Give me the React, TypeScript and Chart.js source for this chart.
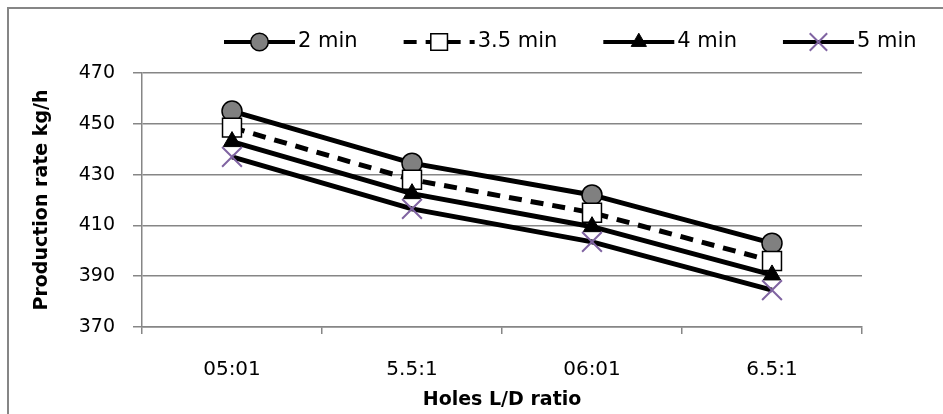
import React, { useEffect, useRef } from "react";
import { Chart, registerables } from "chart.js";
import { drawPoint } from "chart.js/helpers";

Chart.register(...registerables);

// Holes L/D ratio categories
const categories = ["05:01", "5.5:1", "06:01", "6.5:1"];

// Production rate (kg/h) for each residence time
const rate2min = [455, 434.5, 422, 403];
const rate35min = [448.5, 428, 415, 396];
const rate4min = [443, 422.5, 409.5, 390.5];
const rate5min = [437, 416.5, 403.5, 384.5];

const seriesNames = ["2 min", "3.5 min", "4 min", "5 min"];

// Value axis range
const yMin = 370;
const yMax = 470;
const yStep = 20;

const FONT = "'DejaVu Sans', sans-serif";
const GRID = "#868686";

// Legend drawn as a line sample with the series marker in its middle
const lineLegend = {
  id: "lineLegend",
  afterDraw(chart: any) {
    const ctx = chart.ctx as CanvasRenderingContext2D;
    const sample = 71;
    const textGap = 3;
    const itemGap = 46;
    const y = 42;
    let x = 224;
    ctx.save();
    ctx.font = `21px ${FONT}`;
    ctx.textBaseline = "middle";
    ctx.textAlign = "left";
    chart.data.datasets.forEach((ds: any) => {
      ctx.save();
      ctx.strokeStyle = ds.borderColor;
      ctx.lineWidth = 4;
      ctx.lineCap = "butt";
      ctx.setLineDash(ds.borderDash || []);
      ctx.beginPath();
      ctx.moveTo(x, y);
      ctx.lineTo(x + sample, y);
      ctx.stroke();
      ctx.setLineDash([]);
      ctx.fillStyle = ds.pointBackgroundColor;
      ctx.strokeStyle = ds.pointBorderColor;
      ctx.lineWidth = ds.pointBorderWidth;
      drawPoint(
        ctx,
        {
          pointStyle: ds.pointStyle,
          radius: ds.pointRadius * 0.88,
          rotation: 0,
          borderWidth: ds.pointBorderWidth,
        } as any,
        x + sample / 2,
        y
      );
      ctx.restore();
      ctx.fillStyle = "#000";
      const tx = x + sample + textGap;
      ctx.fillText(ds.label, tx, y);
      x = tx + ctx.measureText(ds.label).width + itemGap;
    });
    ctx.restore();
  },
};

export default function App() {
  const canvasRef = useRef<HTMLCanvasElement | null>(null);

  useEffect(() => {
    if (!canvasRef.current) return;
    const chart = new Chart(canvasRef.current, {
      type: "line",
      data: {
        labels: categories,
        datasets: [
          {
            label: seriesNames[0],
            data: rate2min,
            borderColor: "#000",
            borderWidth: 5,
            pointStyle: "circle",
            pointRadius: 10,
            pointBackgroundColor: "#808080",
            pointBorderColor: "#000",
            pointBorderWidth: 1.5,
            order: 4,
          },
          {
            label: seriesNames[1],
            data: rate35min,
            borderColor: "#000",
            borderWidth: 5,
            borderDash: [13, 9],
            pointStyle: "rect",
            pointRadius: 13.4,
            pointBackgroundColor: "#fff",
            pointBorderColor: "#000",
            pointBorderWidth: 1.5,
            order: 3,
          },
          {
            label: seriesNames[2],
            data: rate4min,
            borderColor: "#000",
            borderWidth: 5,
            pointStyle: "triangle",
            pointRadius: 10,
            pointBackgroundColor: "#000",
            pointBorderColor: "#000",
            pointBorderWidth: 1,
            order: 2,
          },
          {
            label: seriesNames[3],
            data: rate5min,
            borderColor: "#000",
            borderWidth: 5,
            pointStyle: "crossRot",
            pointRadius: 14,
            pointBackgroundColor: "#8064A2",
            pointBorderColor: "#8064A2",
            pointBorderWidth: 2,
            order: 1,
          },
        ],
      },
      options: {
        animation: false,
        responsive: false,
        devicePixelRatio: 1,
        layout: { padding: { top: 73, right: 81, left: 0, bottom: 0 } },
        plugins: {
          legend: { display: false },
          tooltip: { enabled: false },
        },
        scales: {
          x: {
            type: "category",
            offset: true,
            grid: {
              offset: true,
              drawOnChartArea: false,
              drawTicks: true,
              tickLength: 7,
              color: GRID,
              lineWidth: 1.5,
            },
            border: { color: GRID, width: 1.5 },
            ticks: {
              padding: 24,
              color: "#000",
              font: { family: FONT, size: 20 },
              maxRotation: 0,
            },
            title: {
              display: true,
              text: "Holes L/D ratio",
              color: "#000",
              font: { family: FONT, size: 19, weight: "bold" },
              padding: { top: 0, bottom: 3 },
            },
            afterFit(scale: any) {
              scale.height = 87;
            },
          },
          y: {
            min: yMin,
            max: yMax,
            grid: {
              color: GRID,
              lineWidth: 1.5,
              tickLength: 9,
            },
            border: { color: GRID, width: 1.5 },
            ticks: {
              stepSize: yStep,
              padding: 18,
              color: "#000",
              font: { family: FONT, size: 19 },
            },
            title: {
              display: true,
              text: "Production rate kg/h",
              color: "#000",
              font: { family: FONT, size: 19, weight: "bold" },
              padding: { top: 31, bottom: 0 },
            },
            afterFit(scale: any) {
              scale.width = 142;
            },
          },
        },
      },
      plugins: [lineLegend],
    });
    return () => chart.destroy();
  }, []);

  return (
    <div
      style={{
        position: "fixed",
        left: 0,
        top: 0,
        width: 943,
        height: 414,
        background: "#fff",
        overflow: "hidden",
      }}
    >
      <div
        style={{
          position: "absolute",
          left: 7,
          top: 7,
          width: 1000,
          height: 1000,
          borderLeft: `2px solid ${GRID}`,
          borderTop: `2px solid ${GRID}`,
        }}
      />
      <canvas
        ref={canvasRef}
        width={943}
        height={414}
        style={{ position: "absolute", left: 0, top: 0, width: 943, height: 414 }}
      />
    </div>
  );
}
